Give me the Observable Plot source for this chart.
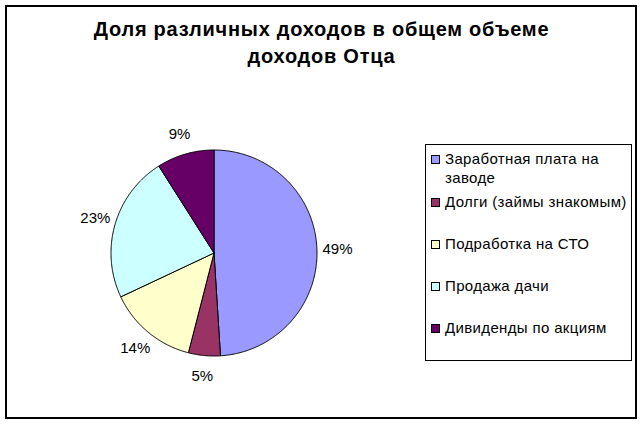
<!DOCTYPE html>
<html>
<head>
<meta charset="utf-8">
<script src="https://cdn.jsdelivr.net/npm/d3@7"></script>
<script src="https://cdn.jsdelivr.net/npm/@observablehq/plot@0.6"></script>
<style>
  body { margin: 0; background: #fff; font-family: "Liberation Sans", Arial, sans-serif; }
  #wrap { position: relative; width: 643px; height: 425px; overflow: hidden; }
  #frame { position: absolute; left: 5px; top: 5px; width: 632px; height: 414px; box-sizing: border-box; border: 2px solid #000; }
  #title { position: absolute; left: 0; width: 643px; top: 16px; text-align: center; font-weight: bold; font-size: 20px; letter-spacing: 0.75px; line-height: 27px; color: #000; }
  #chart { position: absolute; }
  #legend { position: absolute; left: 425px; top: 144px; width: 207px; height: 217px; box-sizing: border-box; border: 1px solid #000; background: #fff; }
  .item { position: absolute; left: 5px; font-size: 15px; letter-spacing: 0.35px; line-height: 19px; color: #000; }
  .sw { position: absolute; left: 0; top: 6px; width: 7px; height: 7px; border: 1px solid #000; }
  .lab { position: absolute; left: 14px; white-space: nowrap; }
</style>
</head>
<body>
<div id="wrap">
  <div id="frame"></div>
  <div id="title">Доля различных доходов в общем объеме<br>доходов Отца</div>
  <div id="chart"></div>
  <div id="legend"></div>
</div>
<script>
const categories = ["Заработная плата на заводе", "Долги (займы знакомым)", "Подработка на СТО", "Продажа дачи", "Дивиденды по акциям"];
const legendLines = [["Заработная плата на", "заводе"], ["Долги (займы знакомым)"], ["Подработка на СТО"], ["Продажа дачи"], ["Дивиденды по акциям"]];
const shares = [49, 5, 14, 23, 9];
const labels = ["49%", "5%", "14%", "23%", "9%"];
const colors = ["#9999FF", "#993366", "#FFFFCC", "#CCFFFF", "#660066"];

const R = 103;           // pixel radius
const cx = 213, cy = 252; // pie centre in page
const ext = 1.5;
const size = Math.round(2 * ext * R);

const pie = d3.pie().sort(null).value(d => d.v)(categories.map((c, i) => ({c, v: shares[i], l: labels[i]})));

const pts = [];
pie.forEach(s => {
  const name = s.data.c;
  pts.push({name, x: 0, y: 0});
  const n = Math.max(2, Math.ceil((s.endAngle - s.startAngle) / (Math.PI / 360)));
  for (let k = 0; k <= n; k++) {
    const a = s.startAngle + (s.endAngle - s.startAngle) * k / n;
    pts.push({name, x: Math.sin(a), y: Math.cos(a)});
  }
  pts.push({name, x: 0, y: 0});
});

const labelR = 1.2;
const labs = pie.map(s => {
  const a = (s.startAngle + s.endAngle) / 2;
  return {x: labelR * Math.sin(a), y: labelR * Math.cos(a), t: s.data.l};
});

const plot = Plot.plot({
  width: size, height: size,
  margin: 0,
  x: {domain: [-ext, ext], axis: null},
  y: {domain: [-ext, ext], axis: null},
  color: {domain: categories, range: colors},
  style: {fontFamily: "'Liberation Sans', Arial, sans-serif", background: "transparent", overflow: "visible"},
  marks: [
    Plot.line(pts, {x: "x", y: "y", z: "name", fill: "name", stroke: "#000", strokeWidth: 1, curve: "linear", strokeLinejoin: "miter"}),
    Plot.text(labs, {x: "x", y: "y", text: "t", fontSize: 15, fill: "#000"})
  ]
});
const chart = document.getElementById("chart");
chart.style.left = (cx - size / 2) + "px";
chart.style.top = (cy - size / 2) + "px";
chart.appendChild(plot);

const leg = document.getElementById("legend");
const tops = [4, 47, 89, 131, 173];
categories.forEach((c, i) => {
  const it = document.createElement("div");
  it.className = "item";
  it.style.top = tops[i] + "px";
  const sw = document.createElement("div");
  sw.className = "sw";
  sw.style.background = colors[i];
  it.appendChild(sw);
  const lb = document.createElement("div");
  lb.className = "lab";
  lb.innerHTML = legendLines[i].join("<br>");
  it.appendChild(lb);
  leg.appendChild(it);
});
</script>
</body>
</html>
